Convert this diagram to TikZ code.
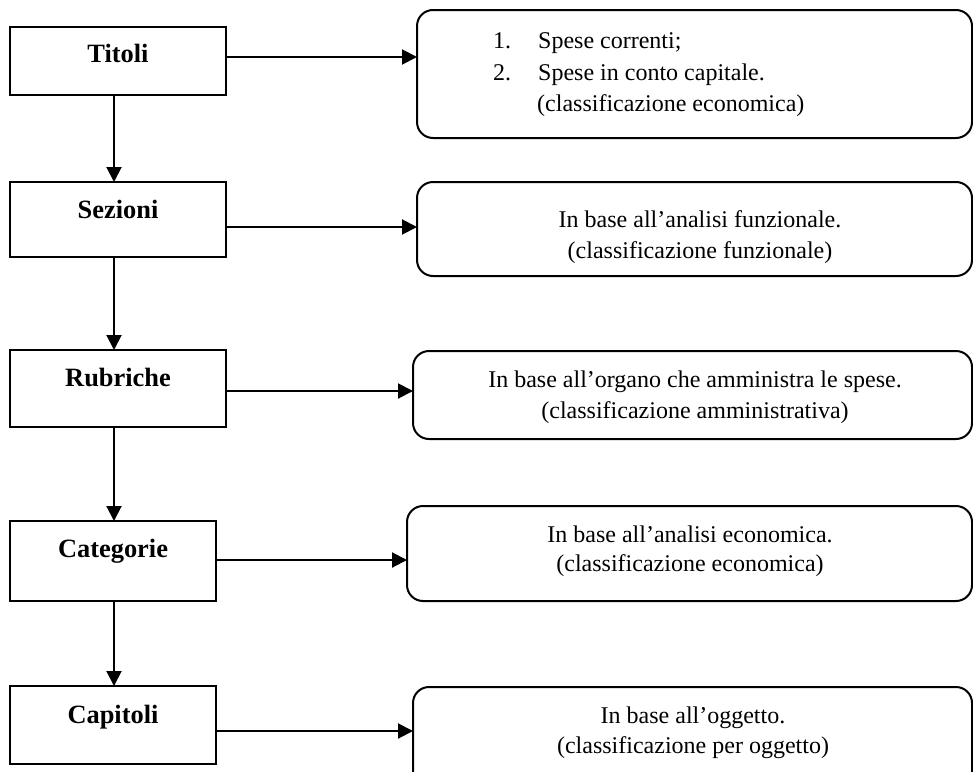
\documentclass[tikz,border=0pt]{standalone}
\usepackage{fontspec}
\setmainfont{Liberation Serif}
\usetikzlibrary{arrows.meta}
\begin{document}
\begin{tikzpicture}[x=1pt,y=-1pt,
  lvl/.style={draw, line width=2pt, inner sep=0pt, outer sep=0pt, rectangle},
  note/.style={draw, line width=2pt, inner sep=0pt, outer sep=0pt, rectangle, rounded corners=16pt},
  lbl/.style={anchor=base, inner sep=0pt, font=\fontsize{26.4}{30}\selectfont\bfseries},
  txt/.style={anchor=base, inner sep=0pt, font=\fontsize{24}{28}\selectfont},
  txtw/.style={txt, anchor=base west},
  arr/.style={line width=2pt, -{Triangle[length=15pt,width=15pt]}}]
\useasboundingbox (0,0) rectangle (973,771);
\clip (0,0) rectangle (973,771);

% hierarchy boxes
\node[lvl, minimum width=216pt, minimum height=68pt] (titoli)    at (118,61)    {};
\node[lvl, minimum width=216pt, minimum height=75pt] (sezioni)   at (118,219.5) {};
\node[lvl, minimum width=216pt, minimum height=77pt] (rubriche)  at (118,388.5) {};
\node[lvl, minimum width=206pt, minimum height=80pt] (categorie) at (113,561)   {};
\node[lvl, minimum width=206pt, minimum height=78pt] (capitoli)  at (113,725)   {};

\node[lbl] (tTitoli)    at (118,62)  {Titoli};
\node[lbl] (tSezioni)   at (118,218) {Sezioni};
\node[lbl] (tRubriche)  at (118,386) {Rubriche};
\node[lbl] (tCategorie) at (113,557) {Categorie};
\node[lbl] (tCapitoli)  at (113,723) {Capitoli};

% description boxes
\node[note, minimum width=555pt, minimum height=128pt] (d1) at (694.5,74)    {};
\node[note, minimum width=555pt, minimum height=94pt]  (d2) at (694.5,229)   {};
\node[note, minimum width=559pt, minimum height=88pt]  (d3) at (692.5,395)   {};
\node[note, minimum width=565pt, minimum height=95pt]  (d4) at (689.5,553.5) {};
\node[note, minimum width=559pt, minimum height=104pt] (d5) at (692.5,739)   {};

\node[txtw] (n1) at (493,48)  {1.};
\node[txtw] (s1) at (538,48)  {Spese correnti;};
\node[txtw] (n2) at (493,80)  {2.};
\node[txtw] (s2) at (538,80)  {Spese in conto capitale.};
\node[txtw] (c1) at (537,111) {(classificazione economica)};

\node[txt] (a2) at (700,227) {In base all’analisi funzionale.};
\node[txt] (b2) at (700,258) {(classificazione funzionale)};
\node[txt] (a3) at (695,387) {In base all’organo che amministra le spese.};
\node[txt] (b3) at (695,418) {(classificazione amministrativa)};
\node[txt] (a4) at (690,542) {In base all’analisi economica.};
\node[txt] (b4) at (690,571) {(classificazione economica)};
\node[txt] (a5) at (693,723) {In base all’oggetto.};
\node[txt] (b5) at (693,753) {(classificazione per oggetto)};

% connector guides
\coordinate (vx) at (114,0);
\coordinate (h1) at (0,57);
\coordinate (h2) at (0,227);
\coordinate (h3) at (0,391);
\coordinate (h4) at (0,560);
\coordinate (h5) at (0,731);

% vertical chain
\draw[arr] (titoli.south -| vx)    -- (sezioni.north -| vx);
\draw[arr] (sezioni.south -| vx)   -- (rubriche.north -| vx);
\draw[arr] (rubriche.south -| vx)  -- (categorie.north -| vx);
\draw[arr] (categorie.south -| vx) -- (capitoli.north -| vx);

% horizontal links
\draw[arr] (titoli.east |- h1)    -- (d1.west |- h1);
\draw[arr] (sezioni.east |- h2)   -- (d2.west |- h2);
\draw[arr] (rubriche.east |- h3)  -- (d3.west |- h3);
\draw[arr] (categorie.east |- h4) -- (d4.west |- h4);
\draw[arr] (capitoli.east |- h5)  -- (d5.west |- h5);
\end{tikzpicture}
\end{document}
